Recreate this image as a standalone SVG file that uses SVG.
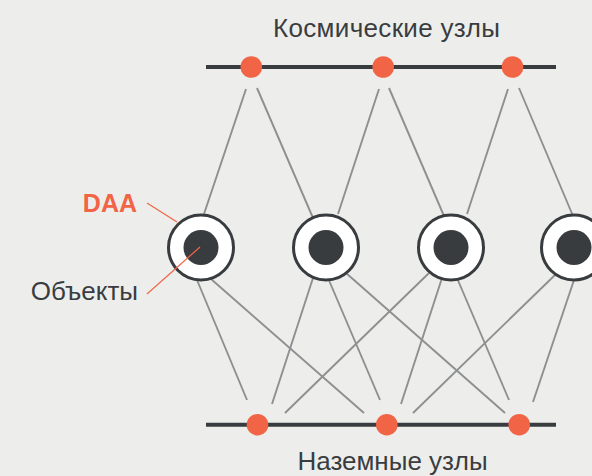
<svg xmlns="http://www.w3.org/2000/svg" width="592" height="476" viewBox="0 0 592 476">
<style>
.bar{stroke:#383c3f;stroke-width:4;fill:none}
.dot{fill:#f26446}
.ln{stroke:#8d8f90;stroke-width:1.9;fill:none}
.ring{fill:#ffffff;stroke:#383c3f;stroke-width:3}
.core{fill:#383c3f}
.lbl{font-family:"Liberation Sans",Arial,sans-serif;font-size:26px;fill:#3a3d3f}
.daa{font-family:"Liberation Sans",Arial,sans-serif;font-size:25px;font-weight:bold;fill:#f26446}
.lead{stroke:#f26446;stroke-width:1.2;fill:none}
</style>
<rect width="592" height="476" fill="#edeeec"/>
<g id="connectors">
<line class="ln" x1="246" y1="89" x2="204" y2="214"/>
<line class="ln" x1="257" y1="88" x2="313" y2="218"/>
<line class="ln" x1="379" y1="89" x2="338" y2="214"/>
<line class="ln" x1="389" y1="88" x2="444" y2="216"/>
<line class="ln" x1="508" y1="89" x2="467" y2="214"/>
<line class="ln" x1="519" y1="88" x2="573" y2="216"/>
<line class="ln" x1="197" y1="280" x2="247" y2="400"/>
<line class="ln" x1="211" y1="279" x2="364" y2="413"/>
<line class="ln" x1="313" y1="278" x2="272" y2="404"/>
<line class="ln" x1="328" y1="278" x2="380" y2="400"/>
<line class="ln" x1="346" y1="273" x2="505" y2="413"/>
<line class="ln" x1="429" y1="273" x2="285" y2="413"/>
<line class="ln" x1="442" y1="278" x2="401" y2="404"/>
<line class="ln" x1="457" y1="278" x2="509" y2="400"/>
<line class="ln" x1="555" y1="275" x2="413" y2="413"/>
<line class="ln" x1="574" y1="280" x2="533" y2="402"/>
<line class="lead" x1="147" y1="203" x2="177" y2="222"/>
</g>
<g id="space-bar"><line class="bar" x1="206" y1="67" x2="556" y2="67"/></g>
<g id="space-node-1"><circle class="dot" cx="251.3" cy="67" r="10.8"/></g>
<g id="space-node-2"><circle class="dot" cx="383.2" cy="67" r="10.8"/></g>
<g id="space-node-3"><circle class="dot" cx="512.5" cy="67" r="10.8"/></g>
<g id="ground-bar"><line class="bar" x1="206" y1="424.7" x2="556" y2="424.7"/></g>
<g id="ground-node-1"><circle class="dot" cx="257.5" cy="424.7" r="10.8"/></g>
<g id="ground-node-2"><circle class="dot" cx="386.8" cy="424.7" r="10.8"/></g>
<g id="ground-node-3"><circle class="dot" cx="519.2" cy="424.7" r="10.8"/></g>
<g id="daa-1"><circle class="ring" cx="201" cy="247.5" r="32.5"/><circle class="core" cx="201" cy="247.5" r="17.5"/></g>
<g id="daa-2"><circle class="ring" cx="326" cy="247.5" r="32.5"/><circle class="core" cx="326" cy="247.5" r="17.5"/></g>
<g id="daa-3"><circle class="ring" cx="451" cy="247.5" r="32.5"/><circle class="core" cx="451" cy="247.5" r="17.5"/></g>
<g id="daa-4"><circle class="ring" cx="574" cy="247.5" r="32.5"/><circle class="core" cx="574" cy="247.5" r="17.5"/></g>
<g id="objects-leader"><line class="lead" x1="147" y1="294" x2="200" y2="247"/></g>
<g id="labels">
<text class="lbl" x="386.5" y="37" text-anchor="middle" textLength="227" lengthAdjust="spacing">Космические узлы</text>
<text class="lbl" x="392.5" y="470" text-anchor="middle">Наземные узлы</text>
<text class="daa" x="137" y="212" text-anchor="end">DAA</text>
<text class="lbl" x="138" y="300" text-anchor="end">Объекты</text>
</g>
</svg>
